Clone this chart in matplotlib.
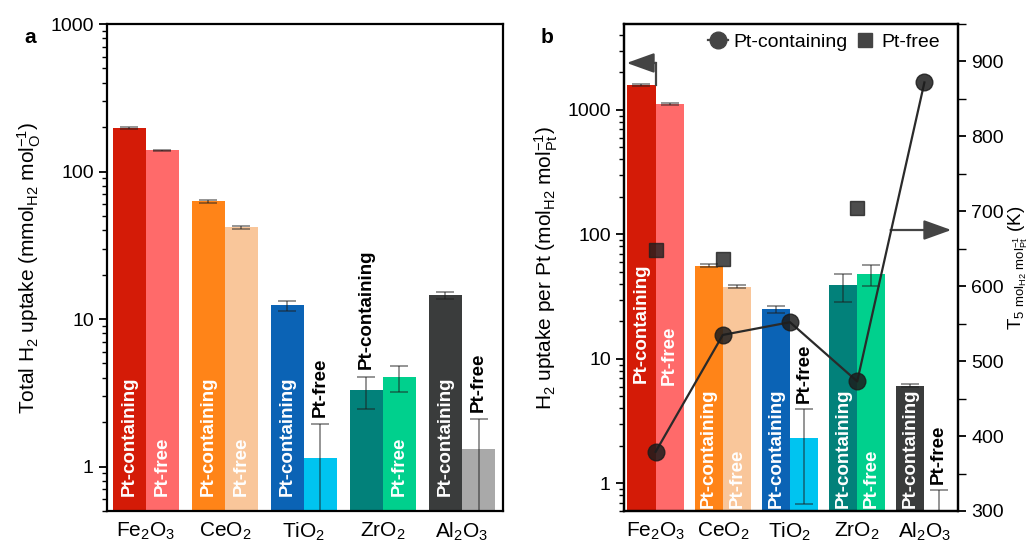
import numpy as np
import matplotlib
matplotlib.use('Agg')
import matplotlib.pyplot as plt
from matplotlib.ticker import FixedLocator, FuncFormatter, MultipleLocator
from matplotlib.lines import Line2D

plt.rcParams['font.family'] = ['Liberation Sans', 'DejaVu Sans']
plt.rcParams['mathtext.fontset'] = 'custom'
plt.rcParams['mathtext.rm'] = 'Liberation Sans'
plt.rcParams['mathtext.default'] = 'regular'

# ----------------------------------------------------------------------
# data
supports = ['Fe$_2$O$_3$', 'CeO$_2$', 'TiO$_2$', 'ZrO$_2$', 'Al$_2$O$_3$']

# panel a: total H2 uptake (mmol_H2 / mol_O)
a_pt = [196, 62.7, 12.4, 3.3, 14.5]
a_pt_lo = [193, 61.5, 11.3, 2.45, 13.6]
a_pt_hi = [199, 64, 13.2, 4.05, 15.2]
a_free = [139, 41.8, 1.15, 4.05, 1.32]
a_free_lo = [137, 40.8, 0.3, 3.2, 0.3]
a_free_hi = [141, 43, 1.95, 4.8, 2.1]

# panel b: H2 uptake per Pt (mol_H2 / mol_Pt)
b_pt = [1590, 56, 25.2, 39.4, 6.07]
b_pt_lo = [1570, 55, 23.5, 28.8, 5.9]
b_pt_hi = [1610, 57.5, 26.6, 48, 6.3]
b_free = [1117, 38, 2.3, 48, 0.3]
b_free_lo = [1105, 37, 0.68, 38.6, 0.1]
b_free_hi = [1130, 39, 3.94, 57, 0.88]

# panel b right axis: T at 5 mol_H2 / mol_Pt (K)
T_pt = [379, 535, 552, 473, 872]
T_free = [649, 636, np.nan, 705, np.nan]

# ----------------------------------------------------------------------
# styles
c_pt = ['#d41b07', '#ff8418', '#0b63b5', '#02817a', '#3a3c3c']
c_free = ['#ff6a6a', '#f9c69a', '#00c4f0', '#00d08d', '#a9a9a9']

# True -> white text inside bar, False -> black text above error bar
a_in_pt = [True, True, True, False, True]
a_in_free = [True, True, False, True, False]
b_in_pt = [True, True, True, True, True]
b_in_free = [True, True, False, True, False]
# where the white labels start (data units)
a_base = [0.63, 0.63, 0.63, 0.63, 0.63]
b_base_pt = [6.4, 0.64, 0.64, 0.64, 0.64]
b_base_free = [6.15, 0.64, 0.64, 0.64, 0.64]

fs = 14     # tick labels
bfs = 13.5  # bar texts
x = np.arange(len(supports))
bw = 0.42

fig = plt.figure(figsize=(10.34, 5.42), dpi=100)
axa = fig.add_axes([0.1035, 0.0572, 0.383, 0.8985])
axb = fig.add_axes([0.6035, 0.0572, 0.323, 0.8985])


def style_log(ax, ymin, ymax):
    ax.set_yscale('log')
    ax.set_ylim(ymin, ymax)
    ax.set_xlim(-0.49, 4.52)
    ax.yaxis.set_major_locator(FixedLocator([1, 10, 100, 1000]))
    ax.yaxis.set_major_formatter(FuncFormatter(lambda v, p: '%g' % v))
    minors = [m * 10 ** e for e in range(-1, 4) for m in range(2, 10)]
    ax.yaxis.set_minor_locator(FixedLocator(minors))
    ax.yaxis.set_minor_formatter(FuncFormatter(lambda v, p: ''))
    ax.tick_params(axis='y', which='major', direction='out', length=6, width=1.3, labelsize=fs)
    ax.tick_params(axis='y', which='minor', direction='out', length=3.5, width=1.0)
    ax.set_xticks(x)
    ax.set_xticklabels(supports, fontsize=15)
    ax.tick_params(axis='x', length=0, pad=7)
    for s in ax.spines.values():
        s.set_linewidth(1.6)


def draw_bars(ax, pt, pt_lo, pt_hi, free, free_lo, free_hi, in_pt, in_free, base_pt, base_free):
    xp = x - bw / 2
    xf = x + bw / 2
    ax.bar(xp, pt, bw, color=c_pt, zorder=1)
    ax.bar(xf, free, bw, color=c_free, zorder=1)
    errkw = dict(fmt='none', ecolor='#1e1e1e', alpha=0.55, capsize=6.5, elinewidth=1.2,
                 capthick=1.2, zorder=2)
    ax.errorbar(xp, pt, yerr=[np.subtract(pt, pt_lo), np.subtract(pt_hi, pt)], **errkw)
    ax.errorbar(xf, free, yerr=[np.subtract(free, free_lo), np.subtract(free_hi, free)], **errkw)
    for i in range(len(x)):
        if in_pt[i]:
            ax.text(xp[i], base_pt[i], 'Pt-containing', rotation=90, color='white',
                    fontsize=bfs, fontweight='bold', ha='center', va='bottom', zorder=3)
        else:
            ax.text(xp[i], pt_hi[i] * 1.13, 'Pt-containing', rotation=90, color='black',
                    fontsize=bfs, fontweight='bold', ha='center', va='bottom', zorder=3)
        if in_free[i]:
            ax.text(xf[i], base_free[i], 'Pt-free', rotation=90, color='white',
                    fontsize=bfs, fontweight='bold', ha='center', va='bottom', zorder=3)
        else:
            ax.text(xf[i], free_hi[i] * 1.12, 'Pt-free', rotation=90, color='black',
                    fontsize=bfs, fontweight='bold', ha='center', va='bottom', zorder=3)


# ======================================================================
# panel a
style_log(axa, 0.5, 1000)
draw_bars(axa, a_pt, a_pt_lo, a_pt_hi, a_free, a_free_lo, a_free_hi,
          a_in_pt, a_in_free, a_base, a_base)
axa.tick_params(axis='y', which='both', right=False)
axa.set_ylabel('Total H$_2$ uptake (mmol$_{H2}$ mol$_{O}^{-1}$)', fontsize=15, labelpad=5)
fig.text(0.029, 0.93, 'a', fontsize=15, fontweight='bold', ha='center', va='center')

# ======================================================================
# panel b
style_log(axb, 0.6, 4900)
axb.set_xlim(-0.47, 4.5)
draw_bars(axb, b_pt, b_pt_lo, b_pt_hi, b_free, b_free_lo, b_free_hi,
          b_in_pt, b_in_free, b_base_pt, b_base_free)
axb.set_ylabel('H$_2$ uptake per Pt (mol$_{H2}$ mol$_{Pt}^{-1}$)', fontsize=15, labelpad=5)
fig.text(0.529, 0.93, 'b', fontsize=15, fontweight='bold', ha='center', va='center')

ax2 = axb.twinx()
ax2.set_ylim(300, 950)
ax2.yaxis.set_major_locator(MultipleLocator(100))
ax2.yaxis.set_minor_locator(MultipleLocator(50))
ax2.tick_params(axis='y', which='major', direction='out', length=6, width=1.3, labelsize=fs)
ax2.tick_params(axis='y', which='minor', direction='out', length=6, width=1.0)
ax2.set_ylabel('T$_{5\\ mol_{H2}\\ mol_{Pt}^{-1}}$ (K)', fontsize=13.5, labelpad=1.5)
for s in ax2.spines.values():
    s.set_linewidth(1.6)

ax2.plot(x, T_pt, '-', color='#2a2a2a', lw=1.6, zorder=4)
ax2.plot(x, T_pt, 'o', color='#1c1c1c', alpha=0.85, markersize=12, zorder=5)
ax2.plot(x, T_free, 's', color='#202020', alpha=0.8, markersize=10, zorder=5)

# arrows pointing to the axes
arw = dict(arrowstyle='-|>,head_length=1.0,head_width=0.36', color='#444444', lw=1.6,
           mutation_scale=17, shrinkA=0, shrinkB=0)
ax2.plot([0.095, 0.095], [0.875, 0.92], color='#444444', lw=1.6, transform=ax2.transAxes,
         clip_on=False)
ax2.annotate('', xy=(0.008, 0.92), xytext=(0.095, 0.92), xycoords='axes fraction',
             textcoords='axes fraction', arrowprops=arw)
ax2.annotate('', xy=(0.98, 0.577), xytext=(0.798, 0.577), xycoords='axes fraction',
             textcoords='axes fraction', arrowprops=arw)

h1 = Line2D([], [], color='#444444', lw=1.6, marker='o', markersize=12)
h2 = Line2D([], [], color='#444444', lw=0, marker='s', markersize=10)
ax2.legend([h1, h2], ['Pt-containing', 'Pt-free'], loc='upper right', bbox_to_anchor=(0.98, 1.005),
           ncol=2, frameon=False, fontsize=14, handlelength=1.0, handletextpad=0.3,
           columnspacing=0.4, borderaxespad=0.2)

plt.savefig('out.png', dpi=100)
plt.close()
